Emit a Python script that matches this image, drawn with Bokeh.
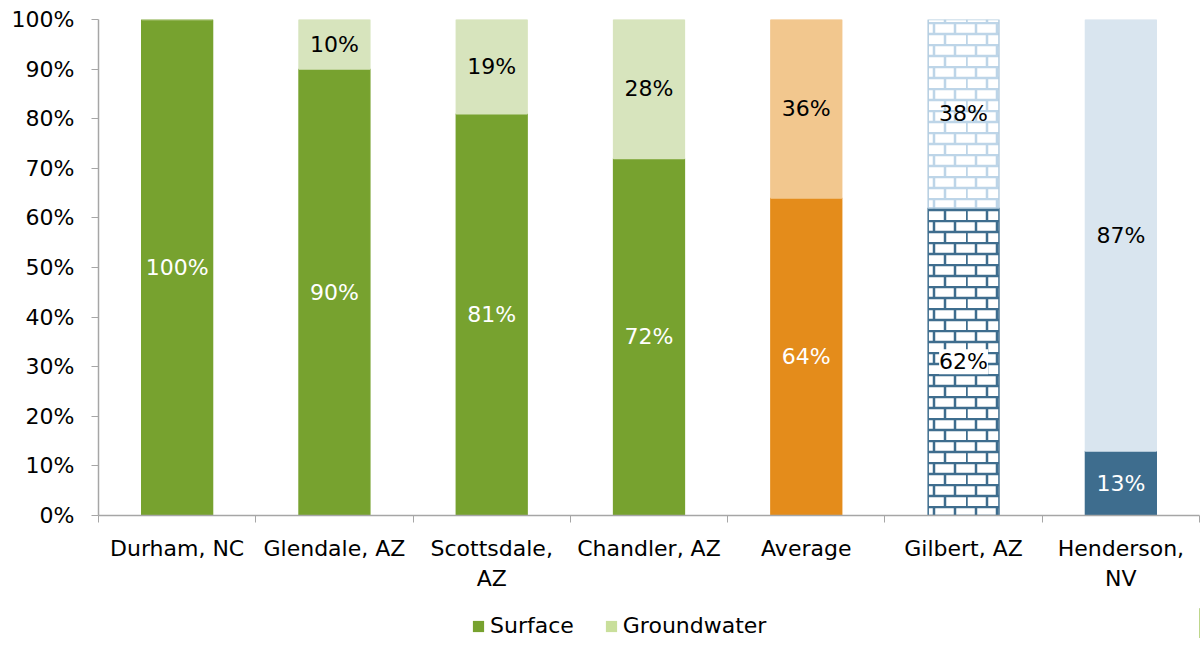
from bokeh.plotting import figure
from bokeh.layouts import column
from bokeh.models import (ColumnDataSource, Range1d, FixedTicker, PrintfTickFormatter,
                          LabelSet, Legend, LegendItem, ImageURLTexture)
from bokeh.core.properties import value
from bokeh.embed import file_html
from bokeh.resources import INLINE
import urllib.parse

# ---- data ----
categories = ["Durham, NC", "Glendale, AZ", "Scottsdale,\nAZ", "Chandler, AZ",
              "Average", "Gilbert, AZ", "Henderson,\nNV"]
surface = [100, 90, 81, 72, 64, 62, 13]
groundwater = [0, 10, 19, 28, 36, 38, 87]
series_names = ["Surface", "Groundwater"]

# ---- styles ----
surf_colors = ["#77A22F", "#77A22F", "#77A22F", "#77A22F", "#E48C1B", "#FFFFFF", "#3E6D8E"]
gw_colors = ["#D7E4BD", "#D7E4BD", "#D7E4BD", "#D7E4BD", "#F2C78E", "#FFFFFF", "#D9E5EF"]
surf_lines = ["#77A22F", "#77A22F", "#77A22F", "#77A22F", "#E48C1B", "#3E6D8E", "#3E6D8E"]
gw_lines = ["#D7E4BD", "#D7E4BD", "#D7E4BD", "#D7E4BD", "#F2C78E", "#B4CDE0", "#D9E5EF"]
surf_hatch = [" ", " ", " ", " ", " ", "@", " "]
gw_hatch = [" ", " ", " ", " ", " ", "#", " "]
surf_text = ["white", "white", "white", "white", "white", "black", "white"]
gw_text = ["black"] * 7
legend_colors = ["#77A22F", "#C9DF9B"]

FONT = "DejaVu Sans"
FS = "22px"


def brick(color, sw):
    svg = ("<svg xmlns='http://www.w3.org/2000/svg' width='42' height='22'>"
           "<rect width='42' height='22' fill='white'/>"
           f"<g stroke='{color}' stroke-width='{sw}' fill='none'>"
           "<line x1='0' y1='1' x2='42' y2='1'/>"
           "<line x1='0' y1='12' x2='42' y2='12'/>"
           "<line x1='10' y1='1' x2='10' y2='12'/>"
           "<line x1='31' y1='1' x2='31' y2='12'/>"
           "<line x1='0.5' y1='12' x2='0.5' y2='22'/>"
           "<line x1='21' y1='12' x2='21' y2='22'/>"
           "</g></svg>")
    return "data:image/svg+xml;utf8," + urllib.parse.quote(svg)


xs = list(range(1, len(categories) + 1))
src = ColumnDataSource(dict(
    x=xs, s=surface, g=groundwater, top=[100] * len(xs),
    sc=surf_colors, gc=gw_colors, sl=surf_lines, gl=gw_lines,
    sh=surf_hatch, gh=gw_hatch,
))

p = figure(frame_width=1101, frame_height=496, output_backend="svg", toolbar_location=None,
           x_range=Range1d(0.5, 7.5), y_range=Range1d(0, 100),
           min_border_left=98, min_border_right=2, min_border_top=19, min_border_bottom=93)
p.outline_line_color = None
p.xgrid.visible = False
p.ygrid.visible = False

hatch_extra = {"@": ImageURLTexture(url=brick("#3E6D8E", 2.5)),
               "#": ImageURLTexture(url=brick("#BDD5E8", 2.5))}

p.vbar(x="x", width=0.45, bottom=0, top="s", source=src,
       fill_color="sc", line_color="sl", line_width=1.5,
       hatch_pattern="sh", hatch_extra=hatch_extra)
p.vbar(x="x", width=0.45, bottom="s", top="top", source=src,
       fill_color="gc", line_color="gl", line_width=1.5,
       hatch_pattern="gh", hatch_extra=hatch_extra)

# labels
lx, ly, lt, lc, lbg = [], [], [], [], []
for i, (s, g) in enumerate(zip(surface, groundwater)):
    if s > 0:
        lx.append(xs[i]); ly.append(s / 2); lt.append(f"{s}%"); lc.append(surf_text[i])
        lbg.append("white" if surf_hatch[i] == "@" else "rgba(0,0,0,0)")
    if g > 0:
        lx.append(xs[i]); ly.append(s + g / 2); lt.append(f"{g}%"); lc.append(gw_text[i])
        lbg.append("rgba(0,0,0,0)")
lsrc = ColumnDataSource(dict(x=lx, y=ly, t=lt, c=lc, bg=lbg))
labels = LabelSet(x="x", y="y", text="t", source=lsrc, text_color="c",
                  text_align="center", text_baseline="middle",
                  text_font=value(FONT), text_font_size=value(FS),
                  background_fill_color="bg", border_line_color=None)
p.add_layout(labels)

# axes
ax = p.xaxis[0]
ax.ticker = FixedTicker(ticks=xs, minor_ticks=[x - 0.5 for x in xs] + [7.5])
ax.major_label_overrides = {x: c for x, c in zip(xs, categories)}
ax.major_tick_line_color = None
ax.minor_tick_line_color = "#A6A6A6"
ax.minor_tick_in = 0
ax.minor_tick_out = 7
ax.axis_line_color = "#A6A6A6"
ax.axis_line_width = 1.5
ax.major_label_text_font = FONT
ax.major_label_text_font_size = FS
ax.major_label_text_color = "black"
ax.major_label_standoff = 13

ay = p.yaxis[0]
ay.ticker = FixedTicker(ticks=list(range(0, 101, 10)))
ay.formatter = PrintfTickFormatter(format="%d%%")
ay.axis_line_color = "#A6A6A6"
ay.axis_line_width = 1.5
ay.major_tick_line_color = "#A6A6A6"
ay.major_tick_in = 0
ay.major_tick_out = 7
ay.minor_tick_line_color = None
ay.major_label_text_font = FONT
ay.major_label_text_font_size = FS
ay.major_label_text_color = "black"
ay.major_label_standoff = 17

# ---- legend strip (its bars lie outside its visible range; only the legend shows) ----
pl = figure(width=1201, height=30, output_backend="svg", toolbar_location=None,
            x_range=Range1d(-20, -19), y_range=Range1d(0, 1),
            min_border=0, x_axis_type=None, y_axis_type=None)
pl.outline_line_color = None
pl.xgrid.visible = False
pl.ygrid.visible = False
items = []
for name, vals, col in zip(series_names, [surface, groundwater], legend_colors):
    r = pl.vbar(x=xs, top=vals, width=0.45, fill_color=col, line_color=None)
    items.append(LegendItem(label=name, renderers=[r]))
legend = Legend(items=items, orientation="horizontal", location=(373, 0),
                label_text_font=FONT, label_text_font_size=FS, label_text_color="black",
                glyph_width=14, glyph_height=14, label_standoff=5, spacing=30,
                label_height=24,
                border_line_color=None, background_fill_alpha=0,
                margin=0, padding=0)
pl.add_layout(legend, "center")

open("out.html", "w").write(file_html(column(p, pl, spacing=0), INLINE))
